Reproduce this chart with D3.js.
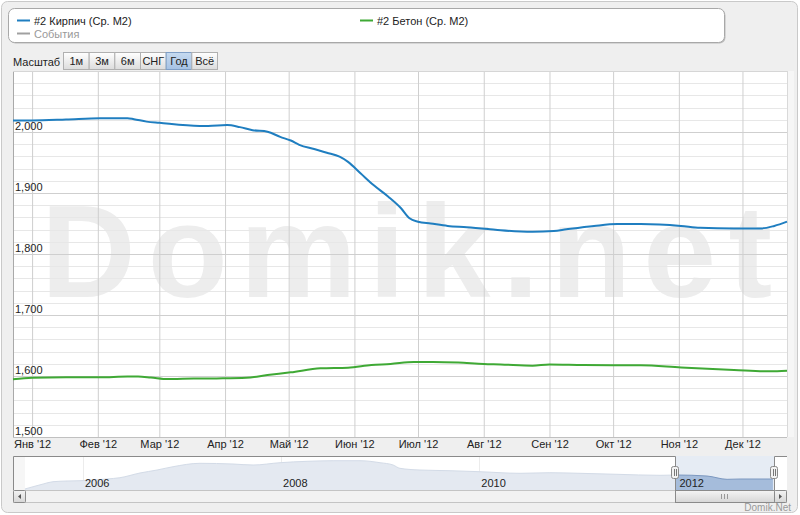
<!DOCTYPE html>
<html><head><meta charset="utf-8">
<script src="https://cdn.jsdelivr.net/npm/d3@7"></script>
<style>
html,body{margin:0;padding:0;background:#fff;}
svg{display:block;font-family:"Liberation Sans",Arial,sans-serif;}
</style></head>
<body>
<svg id="c" width="800" height="515"></svg>
<script>
// ---------- DATA ----------
const brickSeries = [
 ["2011-12-23",2019],["2012-01-01",2019],["2012-01-17",2020.5],["2012-02-02",2022.5],["2012-02-15",2022.5],
 ["2012-02-18",2021],["2012-02-24",2017],["2012-03-01",2015],["2012-03-20",2010],["2012-03-24",2010],
 ["2012-04-02",2011.5],["2012-04-08",2008],["2012-04-14",2003],["2012-04-21",2000.5],["2012-04-27",1992],
 ["2012-05-02",1986],["2012-05-06",1979],["2012-05-13",1972],["2012-05-19",1966],["2012-05-25",1959.5],
 ["2012-05-29",1951],["2012-06-04",1932],["2012-06-10",1913],["2012-06-17",1894],["2012-06-23",1875],
 ["2012-06-27",1858.5],["2012-07-01",1853],["2012-07-07",1850],["2012-07-15",1846],["2012-07-24",1844],
 ["2012-08-03",1841],["2012-08-09",1839],["2012-08-24",1836.5],["2012-09-03",1837.7],["2012-09-09",1840.5],
 ["2012-09-22",1846],["2012-10-03",1849],["2012-10-14",1849],["2012-11-02",1846],["2012-11-11",1843],
 ["2012-11-27",1842],["2012-12-10",1842],["2012-12-16",1846],["2012-12-22",1853]
];
const concreteSeries = [
 ["2011-12-23",1594.6],["2012-01-01",1597],["2012-01-17",1598],["2012-02-02",1598],["2012-02-15",1599],
 ["2012-02-20",1599],["2012-02-26",1597.5],["2012-03-05",1595],["2012-03-12",1595.5],["2012-03-28",1596],
 ["2012-04-11",1597],["2012-04-21",1601.6],["2012-05-02",1606],["2012-05-16",1612.6],["2012-05-29",1613.6],
 ["2012-06-09",1618],["2012-06-18",1619.7],["2012-06-29",1623],["2012-07-08",1623],["2012-07-20",1622],
 ["2012-08-01",1619.7],["2012-08-09",1619],["2012-08-24",1617],["2012-09-01",1619],["2012-09-17",1618],
 ["2012-10-14",1617.5],["2012-11-02",1614],["2012-11-27",1610],["2012-12-14",1607.7],["2012-12-22",1608.7]
];
const navigatorSeries = [
 ["2005-06-01",1425],["2005-07-01",1523],["2005-08-07",1637],["2005-09-12",1735],["2005-11-03",1765],
 ["2005-12-21",1778],["2006-02-07",1807],["2006-03-30",1850],["2006-05-17",1905],["2006-07-30",2105],
 ["2006-10-01",2232],["2006-11-29",2373],["2007-03-08",2517],["2007-07-08",2487],["2007-09-20",2445],
 ["2007-12-28",2543],["2008-04-06",2602],["2008-07-11",2628],["2008-10-18",2628],["2008-12-31",2543],
 ["2009-02-17",2445],["2009-03-14",2305],["2009-05-27",2232],["2009-09-15",2203],["2010-01-03",2160],
 ["2010-05-31",2092],["2010-09-18",2118],["2011-01-07",2092],["2011-05-23",2050],["2011-10-29",2007],
 ["2011-12-30",2020],["2012-04-19",1977],["2012-07-02",1837],["2012-08-19",1850],["2012-12-18",1850]
];
const monthTickDates = ["2012-01-01","2012-02-01","2012-03-01","2012-04-01","2012-05-01","2012-06-01",
 "2012-07-01","2012-08-01","2012-09-01","2012-10-01","2012-11-01","2012-12-01"];
const monthTickLabels = ["Янв '12","Фев '12","Мар '12","Апр '12","Май '12","Июн '12",
 "Июл '12","Авг '12","Сен '12","Окт '12","Ноя '12","Дек '12"];
const yTickValues = [1500,1600,1700,1800,1900,2000];
const yTickLabels = ["1,500","1,600","1,700","1,800","1,900","2,000"];
const navYearTicks = ["2006","2008","2010","2012"];
const legendNames = ["#2 Кирпич (Ср. М2)","#2 Бетон (Ср. М2)","События"];
const rangeButtons = ["1м","3м","6м","СНГ","Год","Всё"];
const selectedButton = "Год";
const viewRange = ["2011-12-23","2012-12-22"];
const navRange = ["2005-04-18","2012-12-22"];

// ---------- SETUP ----------
const P = d3.timeParse("%Y-%m-%d");
const svg = d3.select("#c");
const C = {blue:"#1f7ec0", green:"#3fa935", grid:"#cfcfcf", minor:"#e7e7e7", text:"#222"};
const L = 13, R = 787, T = 71, B = 437;

const defs = svg.append("defs");
const g1 = defs.append("linearGradient").attr("id","btn").attr("x1",0).attr("y1",0).attr("x2",0).attr("y2",1);
g1.append("stop").attr("offset","0%").attr("stop-color","#ffffff");
g1.append("stop").attr("offset","100%").attr("stop-color","#dcdcdc");
const g2 = defs.append("linearGradient").attr("id","btnSel").attr("x1",0).attr("y1",0).attr("x2",0).attr("y2",1);
g2.append("stop").attr("offset","0%").attr("stop-color","#c6daf0");
g2.append("stop").attr("offset","100%").attr("stop-color","#a6c2e4");
const g3 = defs.append("linearGradient").attr("id","thumb").attr("x1",0).attr("y1",0).attr("x2",0).attr("y2",1);
g3.append("stop").attr("offset","0%").attr("stop-color","#f4f4f4");
g3.append("stop").attr("offset","100%").attr("stop-color","#d6d6d6");

// background frame
svg.append("rect").attr("x",0).attr("y",0).attr("width",800).attr("height",515).attr("fill","#ffffff");
svg.append("rect").attr("x",1.5).attr("y",1.5).attr("width",796).attr("height",511).attr("rx",6)
  .attr("fill","#efefef").attr("stroke","#c9c9c9");

// ---------- LEGEND ----------
svg.append("rect").attr("x",9.5).attr("y",9.5).attr("width",716).attr("height",34).attr("rx",6).attr("fill","#9a9a9a").attr("opacity",0.6);
svg.append("rect").attr("x",8.5).attr("y",8.5).attr("width",716).attr("height",34).attr("rx",6)
  .attr("fill","#fff").attr("stroke","#a8a8a8");
const legendItems = [
  {name:legendNames[0], color:C.blue, x:17, y:20.5, tc:"#222"},
  {name:legendNames[1], color:C.green, x:360, y:20.5, tc:"#222"},
  {name:legendNames[2], color:"#a0a0a0", x:17, y:33.5, tc:"#999"}
];
const lg = svg.append("g").selectAll("g").data(legendItems).join("g");
lg.append("line").attr("x1",d=>d.x).attr("x2",d=>d.x+13).attr("y1",d=>d.y).attr("y2",d=>d.y)
  .attr("stroke",d=>d.color).attr("stroke-width",2);
lg.append("text").attr("x",d=>d.x+17).attr("y",d=>d.y+4).attr("font-size",11).attr("fill",d=>d.tc).text(d=>d.name);

// ---------- RANGE SELECTOR ----------
svg.append("text").attr("x",13).attr("y",66).attr("font-size",11).attr("fill","#222").text("Масштаб");
const bx = d3.scaleBand().domain(rangeButtons).range([63,217]);
const bg = svg.append("g").selectAll("g").data(rangeButtons).join("g");
bg.append("rect").attr("x",d=>bx(d)+0.5).attr("y",52.5).attr("width",bx.bandwidth()).attr("height",17)
  .attr("fill",d=>d===selectedButton?"url(#btnSel)":"url(#btn)")
  .attr("stroke",d=>d===selectedButton?"#7f9fc7":"#b0b0b0");
bg.append("text").attr("x",d=>bx(d)+bx.bandwidth()/2+0.5).attr("y",65).attr("text-anchor","middle")
  .attr("font-size",11).attr("fill","#222").text(d=>d);

// ---------- MAIN PLOT ----------
const x = d3.scaleTime().domain(viewRange.map(P)).range([L,R]);
const y = d3.scaleLinear().domain([1500,2100]).range([B,T]);

svg.append("rect").attr("x",L).attr("y",T).attr("width",R-L).attr("height",B-T).attr("fill","#fff");

// watermark
svg.append("text").attr("x",41).attr("y",297).attr("font-size",131).attr("font-weight","bold")
  .attr("fill","#ededed").attr("textLength",731).attr("lengthAdjust","spacing").text("Domik.net");

// minor grid
const minorVals = d3.range(1520,2100,20).filter(v=>v%100!==0);
svg.append("g").selectAll("line").data(minorVals).join("line")
  .attr("x1",L).attr("x2",R).attr("y1",d=>Math.round(y(d))+0.5).attr("y2",d=>Math.round(y(d))+0.5)
  .attr("stroke",C.minor);
// major y grid
svg.append("g").call(d3.axisLeft(y).tickValues(yTickValues).tickSize(-(R-L)).tickFormat(""))
  .attr("transform",`translate(${L},0)`)
  .call(g=>{g.select(".domain").remove(); g.selectAll("line").attr("stroke",C.grid);});
// month grid + labels
const xa = svg.append("g").attr("transform",`translate(0,${B})`)
  .call(d3.axisBottom(x).tickValues(monthTickDates.map(P)).tickSize(-(B-T)).tickFormat((d,i)=>monthTickLabels[i]));
xa.select(".domain").remove();
xa.selectAll("line").attr("stroke",C.grid);
xa.selectAll("text").attr("y",11).attr("dy",0).attr("font-size",11).attr("fill",C.text)
  .attr("font-family","Liberation Sans, Arial, sans-serif");
// y labels
svg.append("g").selectAll("text").data(yTickValues).join("text")
  .attr("x",15).attr("y",d=>y(d)-2).attr("font-size",11).attr("fill",C.text).text((d,i)=>yTickLabels[i]);
// plot border
svg.append("line").attr("x1",L+0.5).attr("x2",L+0.5).attr("y1",T).attr("y2",B).attr("stroke","#a9a9a9");
svg.append("line").attr("x1",L).attr("x2",R).attr("y1",T+0.5).attr("y2",T+0.5).attr("stroke","#d6d6d6");
svg.append("line").attr("x1",L).attr("x2",R).attr("y1",B+0.5).attr("y2",B+0.5).attr("stroke","#c0c0c0");
svg.append("rect").attr("x",R).attr("y",T).attr("width",7).attr("height",B-T).attr("fill","#f6f6f6");
svg.append("line").attr("x1",R+0.5).attr("x2",R+0.5).attr("y1",T).attr("y2",B).attr("stroke","#d9d9d9");

// lines
const line = d3.line().x(d=>x(P(d[0]))).y(d=>y(d[1])).curve(d3.curveMonotoneX);
svg.append("path").datum(concreteSeries).attr("d",line).attr("fill","none").attr("stroke",C.green).attr("stroke-width",2);
svg.append("path").datum(brickSeries).attr("d",line).attr("fill","none").attr("stroke",C.blue).attr("stroke-width",2);

// ---------- NAVIGATOR ----------
const NT = 456, NB = 490;
const nx = d3.scaleTime().domain(navRange.map(P)).range([L,774]);
const ny = d3.scaleLinear().domain([1383,2828]).range([NB,NT]);
svg.append("rect").attr("x",L).attr("y",NT).attr("width",R-L).attr("height",NB-NT).attr("fill","#fff");
svg.append("rect").attr("x",L).attr("y",NT).attr("width",12).attr("height",NB-NT).attr("fill","#f6f6f6");
// year grid + labels
const yearDates = navYearTicks.map(t=>P(t+"-01-01"));
svg.append("g").selectAll("line").data(yearDates).join("line")
  .attr("x1",d=>Math.round(nx(d))+0.5).attr("x2",d=>Math.round(nx(d))+0.5).attr("y1",NT).attr("y2",NB)
  .attr("stroke","#ececec");
const area = d3.area().x(d=>nx(P(d[0]))).y0(NB).y1(d=>ny(d[1])).curve(d3.curveMonotoneX);
const navLine = d3.line().x(d=>nx(P(d[0]))).y(d=>ny(d[1])).curve(d3.curveMonotoneX);
svg.append("path").datum(navigatorSeries).attr("d",area).attr("fill","#e4e9f1");
svg.append("path").datum(navigatorSeries).attr("d",navLine).attr("fill","none").attr("stroke","#d3dbe7");
// selected region
const s0 = nx(P(viewRange[0])), s1 = nx(P(viewRange[1]));
defs.append("clipPath").attr("id","sel").append("rect").attr("x",s0).attr("y",NT).attr("width",s1-s0).attr("height",NB-NT);
svg.append("rect").attr("x",s0).attr("y",NT).attr("width",s1-s0).attr("height",NB-NT).attr("fill","#e6ecf4");
svg.append("path").datum(navigatorSeries).attr("d",area).attr("fill","#a5bcdb").attr("clip-path","url(#sel)");
svg.append("path").datum(navigatorSeries).attr("d",navLine).attr("fill","none").attr("stroke","#7c98c0").attr("clip-path","url(#sel)");
svg.append("g").selectAll("text").data(yearDates).join("text")
  .attr("x",d=>nx(d)+2).attr("y",487).attr("font-size",11).attr("fill","#222").text((d,i)=>navYearTicks[i]);
// outline
svg.append("path").attr("fill","none").attr("stroke","#8a8a8a")
  .attr("d",`M${L+0.5},${NB}V${NT+0.5}H${Math.round(s0)+0.5}V${NB+0.5}H${Math.round(s1)+0.5}V${NT+0.5}H${R}`);
// scrollbar
svg.append("rect").attr("x",L+0.5).attr("y",NB+0.5).attr("width",R-L-1).attr("height",12).attr("fill","#f2f2f2").attr("stroke","#c4c4c4");
svg.append("rect").attr("x",Math.round(s0)+0.5).attr("y",NB+0.5).attr("width",Math.round(s1)-Math.round(s0)).attr("height",12)
  .attr("fill","url(#thumb)").attr("stroke","#8a8a8a");
const gx = (s0+s1)/2;
[-3,0,3].forEach(o=>svg.append("line").attr("x1",Math.round(gx+o)+0.5).attr("x2",Math.round(gx+o)+0.5)
  .attr("y1",494).attr("y2",499).attr("stroke","#999"));
[[L,"M18,496.5 L21,494 L21,499 Z"],[774,"M779,494 L782,496.5 L779,499 Z"]].forEach(([bx0,p])=>{
  svg.append("rect").attr("x",bx0+0.5).attr("y",NB+0.5).attr("width",12).attr("height",12).attr("fill","url(#thumb)").attr("stroke","#8a8a8a").attr("rx",1);
  svg.append("path").attr("d",p).attr("fill","#555");
});
// handles
[s0,s1].forEach(hx=>{
  const h = svg.append("g").attr("transform",`translate(${Math.round(hx)},0)`);
  h.append("rect").attr("x",-3.5).attr("y",466.5).attr("width",7).attr("height",12).attr("rx",2).attr("fill","#f2f2f2").attr("stroke","#8a8a8a");
  h.append("line").attr("x1",-0.5).attr("x2",-0.5).attr("y1",469).attr("y2",476).attr("stroke","#777");
  h.append("line").attr("x1",1.5).attr("x2",1.5).attr("y1",469).attr("y2",476).attr("stroke","#777");
});

// credit
svg.append("text").attr("x",791).attr("y",511).attr("text-anchor","end").attr("font-size",10).attr("fill","#9a9a9a").text("Domik.Net");
</script>
</body></html>
